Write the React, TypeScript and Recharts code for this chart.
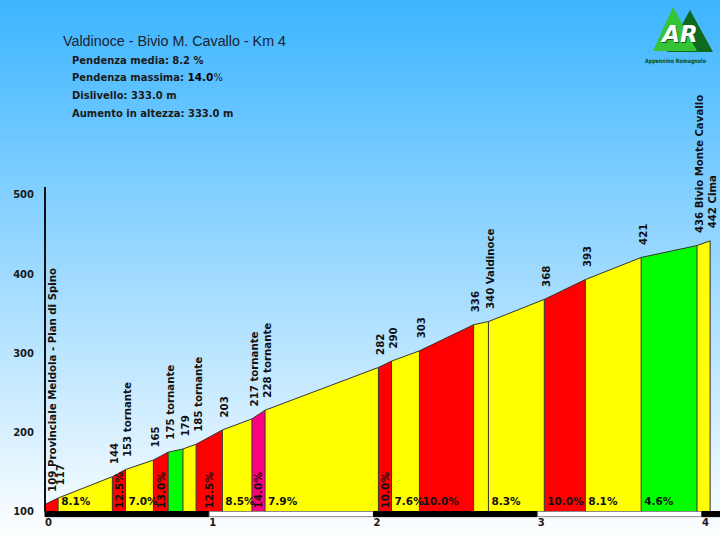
import {
  Area,
  ComposedChart,
  LabelList,
  Line,
  ReferenceArea,
  ReferenceLine,
  Scatter,
  XAxis,
  YAxis
} from 'recharts'

// profilo: distanza (km) e quota (m) dei punti
const km = [0, 0.08, 0.41, 0.49, 0.66, 0.75, 0.84, 0.92, 1.08, 1.26, 1.34, 2.03, 2.11, 2.28, 2.61, 2.7, 3.04, 3.29, 3.63, 3.97, 4.05]
const quota = [109, 117, 144, 153, 165, 175, 179, 185, 203, 217, 228, 282, 290, 303, 336, 340, 368, 393, 421, 436, 442]
const luoghi = [
  'Provinciale Meldola - Pian di Spino', '', '', 'tornante', '', 'tornante', '', 'tornante', '',
  'tornante', 'tornante', '', '', '', '', 'Valdinoce', '', '', '', 'Bivio Monte Cavallo', 'Cima'
]

// tratti tra un punto e il successivo
const pendenze = [null, 8.1, 12.5, 7.0, 13.0, null, null, 12.5, 8.5, 14.0, 7.9, 10.0, 7.6, 10.0, null, 8.3, 10.0, 8.1, 4.6, null]
const fasce = ['r', 'g', 'r', 'g', 'r', 'v', 'g', 'r', 'g', 'm', 'g', 'r', 'g', 'r', 'g', 'g', 'r', 'g', 'v', 'g']

const kmTicks = [0, 1, 2, 3, 4]
const quotaTicks = [100, 200, 300, 400, 500]

const titolo = 'Valdinoce - Bivio M. Cavallo - Km 4'
const info = ['Pendenza media: 8.2 %', 'Pendenza massima: ', 'Dislivello: 333.0 m', 'Aumento in altezza: 333.0 m']

const colori: Record<string, string> = { r: '#ff0000', g: '#ffff00', v: '#00ff00', m: '#ff0080' }
const QUOTA_BASE = 100
const KM_MAX = 4.11
const FONT = '"DejaVu Sans", Verdana, sans-serif'

const data = km.map((k, i) => {
  const row: Record<string, any> = {
    km: k,
    quota: quota[i],
    etichetta: luoghi[i] ? `${quota[i]} ${luoghi[i]}` : `${quota[i]}`
  }
  if (i > 0) row['s' + (i - 1)] = quota[i]
  if (i < km.length - 1) row['s' + i] = quota[i]
  return row
})

const puntiPendenza = pendenze
  .map((p, i) => ({ p, da: km[i], a: km[i + 1] }))
  .filter((s) => s.p != null)
  .map((s) => {
    const testo = (s.p as number).toFixed(1) + '%'
    const verticale = testo.length * 0.04 > s.a - s.da
    return { km: verticale ? (s.da + s.a) / 2 : s.da, y: QUOTA_BASE, testo, verticale }
  })

// barra chilometrica alternata sotto il profilo
const fasceKm = kmTicks.map((k, i) => ({
  x1: k,
  x2: i < kmTicks.length - 1 ? kmTicks[i + 1] : KM_MAX,
  nero: i % 2 === 0
}))

const renderQuota = (props: any) => {
  const { x, y, value, index } = props
  const lx = x + (index === 0 ? 7.7 : 2) + 3.6
  const ly = y - 12.5
  return (
    <text
      transform={`translate(${lx},${ly}) rotate(-90)`}
      fontFamily={FONT}
      fontSize={10.2}
      fontWeight="bold"
      fill="#111"
    >
      {value}
    </text>
  )
}

const renderPendenza = (props: any) => {
  const { cx, cy, payload } = props
  if (payload.verticale) {
    return (
      <text
        transform={`translate(${cx + 3.8},${cy - 3}) rotate(-90)`}
        fontFamily={FONT}
        fontSize={10.5}
        fontWeight="bold"
        fill="#111"
      >
        {payload.testo}
      </text>
    )
  }
  return (
    <text x={cx + 3} y={cy - 7} fontFamily={FONT} fontSize={10.5} fontWeight="bold" fill="#111">
      {payload.testo}
    </text>
  )
}

const tickKm = (props: any) => {
  const { x, y, payload } = props
  return (
    <text x={x} y={y + 14.5} fontFamily={FONT} fontSize={10} fontWeight="bold" fill="#1a1a1a">
      {payload.value}
    </text>
  )
}

export default function App() {
  return (
    <div
      style={{
        position: 'absolute',
        left: 0,
        top: 0,
        width: 720,
        height: 540,
        background: 'linear-gradient(to bottom, #3cb5ff 0%, #ffffff 100%)'
      }}
    >
      <ComposedChart width={720} height={540} data={data} margin={{ top: 187, right: 0, bottom: 0, left: 0 }}>
        <XAxis
          dataKey="km"
          type="number"
          domain={[0, KM_MAX]}
          ticks={kmTicks}
          allowDataOverflow
          axisLine={false}
          tickLine={false}
          tickSize={0}
          tickMargin={0}
          height={28.5}
          tick={tickKm}
        />
        <YAxis
          type="number"
          domain={[QUOTA_BASE, 510]}
          ticks={quotaTicks}
          allowDataOverflow
          width={45}
          axisLine={{ stroke: '#111', strokeWidth: 2 }}
          tickLine={false}
          tickSize={0}
          tickMargin={11}
          tick={{ fontFamily: FONT, fontSize: 10, fontWeight: 'bold', fill: '#1a1a1a' }}
        />
        {fasce.map((f, i) => (
          <Area
            key={'s' + i}
            type="linear"
            dataKey={'s' + i}
            fill={colori[f]}
            fillOpacity={1}
            stroke="none"
            dot={false}
            activeDot={false}
            isAnimationActive={false}
          />
        ))}
        {km.map((k, i) => (
          <ReferenceLine
            key={'d' + i}
            segment={[
              { x: k, y: QUOTA_BASE },
              { x: k, y: quota[i] }
            ]}
            stroke="#333"
            strokeWidth={1}
          />
        ))}
        {fasceKm.map((f, i) => (
          <ReferenceArea
            key={'k' + i}
            x1={f.x1}
            x2={f.x2}
            y1={QUOTA_BASE}
            y2={QUOTA_BASE - 6.5}
            ifOverflow="visible"
            fill={f.nero ? '#000' : '#fff'}
            fillOpacity={1}
            stroke={f.nero ? '#000' : '#8a8a8a'}
            strokeWidth={1}
          />
        ))}
        <Line
          type="linear"
          dataKey="quota"
          stroke="#333"
          strokeWidth={1}
          dot={false}
          activeDot={false}
          isAnimationActive={false}
        >
          <LabelList dataKey="etichetta" content={renderQuota} />
        </Line>
        <Scatter data={puntiPendenza} dataKey="y" shape={renderPendenza} isAnimationActive={false} />
      </ComposedChart>

      <svg
        width={720}
        height={540}
        style={{ position: 'absolute', left: 0, top: 0, pointerEvents: 'none' }}
      >
        <text
          x={63}
          y={46}
          fontFamily='"Liberation Sans", Arial, sans-serif'
          fontSize={15.5}
          fill="#1c2330"
          textLength={223}
          lengthAdjust="spacingAndGlyphs"
        >
          {titolo}
        </text>
        {info.map((t, i) => (
          <text key={i} x={72} y={63.5 + i * 17.8} fontFamily={FONT} fontSize={10} fontWeight="bold" fill="#1a1a1a">
            {t}
            {i === 1 && (
              <>
                <tspan fill="#000" fontSize={10.5}>14.0</tspan>
                <tspan fontWeight="normal">%</tspan>
              </>
            )}
          </text>
        ))}
        <polygon points="690,10 713,52 667,52" fill="#0e6a1e" />
        <polygon points="673,7 697,51 653,51" fill="#35c435" />
        <text
          x={681}
          y={43}
          textAnchor="middle"
          fontFamily={FONT}
          fontSize={23}
          fontWeight="bold"
          fontStyle="italic"
          fill="#0e5a1a"
        >
          AR
        </text>
        <text
          x={680}
          y={41.5}
          textAnchor="middle"
          fontFamily={FONT}
          fontSize={23}
          fontWeight="bold"
          fontStyle="italic"
          fill="#fff"
        >
          AR
        </text>
        <text
          x={645}
          y={63}
          fontFamily={FONT}
          fontSize={6}
          fontWeight="bold"
          fill="#0c4d14"
          textLength={61}
          lengthAdjust="spacingAndGlyphs"
        >
          Appennino Romagnolo
        </text>
      </svg>
    </div>
  )
}
